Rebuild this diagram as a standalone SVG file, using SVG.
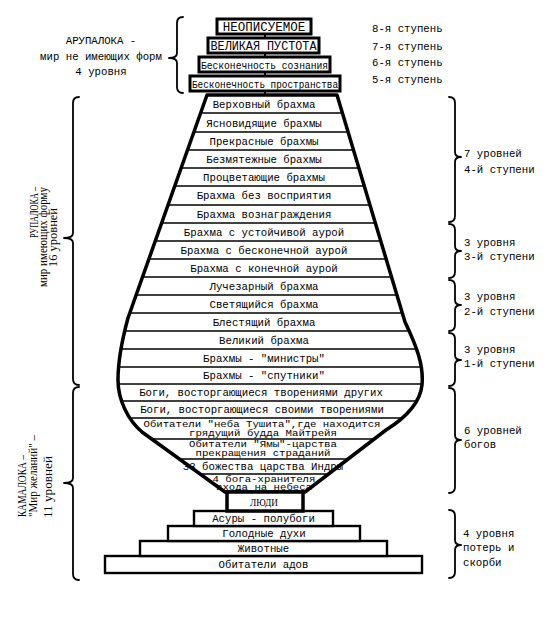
<svg xmlns="http://www.w3.org/2000/svg" width="559" height="619" viewBox="0 0 559 619">
<defs>
<style>
.m{font-family:"Liberation Mono","Courier New",monospace;font-size:10.7px;fill:#000}
.t{font-family:"Liberation Mono","Courier New",monospace;font-size:8.6px;fill:#000}
.c{text-anchor:middle}
.s{font-family:"Liberation Serif","Times New Roman",serif;font-size:11.5px;fill:#000}
.box{fill:#fff;stroke:#000;stroke-width:3}
.step{fill:#fff;stroke:#000;stroke-width:2.4}
.row{stroke:#000;stroke-width:1.3}
.br{fill:none;stroke:#000;stroke-width:1.8;stroke-linecap:round;stroke-linejoin:round}
.ln{stroke:#000;stroke-width:2}
.vase{fill:none;stroke:#000;stroke-width:3.5;stroke-linejoin:round}
</style>
<clipPath id="vc"><path d="M207,95 L337,95 L405,322 C416,345 424,365 422,385 C420,405 402,420 386,430 L305,492 L225,492 L142,432 C128,420 118,400 118,380 C118,360 122,340 128,318 Z"/></clipPath>
</defs>
<rect width="559" height="619" fill="#fff"/>

<g id="connectors">
<line class="ln" x1="265" y1="34" x2="265" y2="38"/>
<line class="ln" x1="265" y1="53" x2="265" y2="57"/>
<line class="ln" x1="265" y1="72" x2="265" y2="76"/>
<line class="ln" x1="265" y1="91" x2="265" y2="95"/>
</g>

<g id="arupaloka">
<g id="n-neopis"><rect class="box" x="217" y="19" width="94" height="15"/><text class="m c" x="264" y="31" style="font-size:12.5px">НЕОПИСУЕМОЕ</text></g>
<g id="n-pustota"><rect class="box" x="208" y="38" width="111" height="15"/><text class="m c" x="263.5" y="50" style="font-size:12px" textLength="106" lengthAdjust="spacingAndGlyphs">ВЕЛИКАЯ ПУСТОТА</text></g>
<g id="n-soznanie"><rect class="box" x="199" y="57" width="131" height="15"/><text class="m c" x="264.5" y="68.5" style="font-size:10px" textLength="127" lengthAdjust="spacingAndGlyphs">Бесконечность сознания</text></g>
<g id="n-prostranstvo"><rect class="box" x="190" y="76" width="150" height="15"/><text class="m c" x="265" y="87.5" style="font-size:10px" textLength="146" lengthAdjust="spacingAndGlyphs">Бесконечность пространства</text></g>
</g>

<g id="vase">
<path d="M207,95 L337,95 L405,322 C416,345 424,365 422,385 C420,405 402,420 386,430 L305,492 L225,492 L142,432 C128,420 118,400 118,380 C118,360 122,340 128,318 Z" fill="#fff"/>
<g clip-path="url(#vc)">
<line class="row" x1="90" y1="113" x2="440" y2="113"/>
<line class="row" x1="90" y1="132" x2="440" y2="132"/>
<line class="row" x1="90" y1="150" x2="440" y2="150"/>
<line class="row" x1="90" y1="168" x2="440" y2="168"/>
<line class="row" x1="90" y1="186" x2="440" y2="186"/>
<line class="row" x1="90" y1="205" x2="440" y2="205"/>
<line class="row" x1="90" y1="223" x2="440" y2="223"/>
<line class="row" x1="90" y1="241" x2="440" y2="241"/>
<line class="row" x1="90" y1="259" x2="440" y2="259"/>
<line class="row" x1="90" y1="277" x2="440" y2="277"/>
<line class="row" x1="90" y1="295" x2="440" y2="295"/>
<line class="row" x1="90" y1="313" x2="440" y2="313"/>
<line class="row" x1="90" y1="331" x2="440" y2="331"/>
<line class="row" x1="90" y1="349" x2="440" y2="349"/>
<line class="row" x1="90" y1="367" x2="440" y2="367"/>
<line class="row" x1="90" y1="384" x2="440" y2="384"/>
<line class="row" x1="90" y1="401" x2="440" y2="401"/>
<line class="row" x1="90" y1="418" x2="440" y2="418"/>
<line class="row" x1="90" y1="439" x2="440" y2="439"/>
<line class="row" x1="90" y1="459" x2="440" y2="459"/>
<line class="row" x1="90" y1="474" x2="440" y2="474"/>
</g>
<g id="r01"><text class="m c" x="264" y="108">Верховный брахма</text></g>
<g id="r02"><text class="m c" x="264" y="126.5">Ясновидящие брахмы</text></g>
<g id="r03"><text class="m c" x="264" y="144.5">Прекрасные брахмы</text></g>
<g id="r04"><text class="m c" x="264" y="162.5">Безмятежные брахмы</text></g>
<g id="r05"><text class="m c" x="264" y="180.5">Процветающие брахмы</text></g>
<g id="r06"><text class="m c" x="264" y="199">Брахма без восприятия</text></g>
<g id="r07"><text class="m c" x="264" y="217.5">Брахма вознаграждения</text></g>
<g id="r08"><text class="m c" x="264" y="235.5">Брахма с устойчивой аурой</text></g>
<g id="r09"><text class="m c" x="264" y="253.5">Брахма с бесконечной аурой</text></g>
<g id="r10"><text class="m c" x="264" y="271.5">Брахма с конечной аурой</text></g>
<g id="r11"><text class="m c" x="264" y="289.5">Лучезарный брахма</text></g>
<g id="r12"><text class="m c" x="264" y="307.5">Светящийся брахма</text></g>
<g id="r13"><text class="m c" x="264" y="325.5">Блестящий брахма</text></g>
<g id="r14"><text class="m c" x="264" y="343.5">Великий брахма</text></g>
<g id="r15"><text class="m c" x="264" y="361.5">Брахмы - "министры"</text></g>
<g id="r16"><text class="m c" x="264" y="379">Брахмы - "спутники"</text></g>
<g id="r17"><text class="m c" x="261" y="396">Боги, восторгающиеся творениями других</text></g>
<g id="r18"><text class="m c" x="262" y="413">Боги, восторгающиеся своими творениями</text></g>
<g id="r19"><text class="t c" x="262" y="427" textLength="237" lengthAdjust="spacingAndGlyphs">Обитатели "неба Тушита",где находится</text><text class="t c" x="263" y="436" textLength="148" lengthAdjust="spacingAndGlyphs">грядущий будда Майтрейя</text></g>
<g id="r20"><text class="t c" x="263" y="447" textLength="148" lengthAdjust="spacingAndGlyphs">Обитатели "Ямы"-царства</text><text class="t c" x="263" y="456" textLength="135" lengthAdjust="spacingAndGlyphs">прекращения страданий</text></g>
<g id="r21"><text class="m c" x="263" y="470">33 божества царства Индры</text></g>
<g id="r22"><text class="t c" x="264" y="481.5" textLength="103" lengthAdjust="spacingAndGlyphs">4 бога-хранителя</text><text class="t c" x="264" y="490" textLength="96" lengthAdjust="spacingAndGlyphs">входа на небеса</text></g>
<path class="vase" d="M207,95 L337,95 L405,322 C416,345 424,365 422,385 C420,405 402,420 386,430 L305,492 L225,492 L142,432 C128,420 118,400 118,380 C118,360 122,340 128,318 Z"/>
</g>

<g id="steps">
<g id="s-adov"><rect class="step" x="105" y="556" width="317" height="17"/><text class="m c" x="263.5" y="568">Обитатели адов</text></g>
<g id="s-zhivotnye"><rect class="step" x="140" y="541" width="247" height="15"/><text class="m c" x="263.5" y="552">Животные</text></g>
<g id="s-golodnye"><rect class="step" x="168" y="526" width="192" height="15"/><text class="m c" x="264" y="537">Голодные духи</text></g>
<g id="s-asury"><rect class="step" x="194" y="511" width="139" height="15"/><text class="m c" x="263.5" y="522">Асуры - полубоги</text></g>
<g id="s-lyudi"><rect x="227" y="492" width="76" height="19" fill="#fff" stroke="#000" stroke-width="3.5"/><text class="s c" x="264" y="505.5" style="font-size:10px" textLength="28" lengthAdjust="spacingAndGlyphs">ЛЮДИ</text></g>
</g>

<g id="braces">
<path class="br" d="M183,17 Q177,17 177,23 L177,53 Q177,58 169,58 Q177,58 177,63 L177,87 Q177,93 183,93"/>
<path class="br" d="M79,97 Q73,97 73,103 L73,233 Q73,238 64,238 Q73,238 73,243 L73,379 Q73,385 79,385"/>
<path class="br" d="M79,387 Q73,387 73,393 L73,478 Q73,483 64,483 Q73,483 73,488 L73,574 Q73,580 79,580"/>
<path class="br" d="M449,97 Q455,97 455,103 L455,152 Q455,157 461,157 Q455,157 455,162 L455,216 Q455,222 449,222"/>
<path class="br" d="M449,224 Q455,224 455,230 L455,246 Q455,251 461,251 Q455,251 455,256 L455,272 Q455,278 449,278"/>
<path class="br" d="M449,280 Q455,280 455,286 L455,300 Q455,305 461,305 Q455,305 455,310 L455,325 Q455,331 449,331"/>
<path class="br" d="M449,333 Q455,333 455,339 L455,355 Q455,360 461,360 Q455,360 455,365 L455,380 Q455,386 449,386"/>
<path class="br" d="M449,388 Q455,388 455,394 L455,435 Q455,440 461,440 Q455,440 455,445 L455,487 Q455,493 449,493"/>
<path class="br" d="M449,510 Q455,510 455,516 L455,540 Q455,545 461,545 Q455,545 455,550 L455,572 Q455,578 449,578"/>
</g>

<g id="labels-left">
<g id="l-arupa">
<text class="m c" x="101" y="44">АРУПАЛОКА -</text>
<text class="m c" x="101" y="60">мир не имеющих форм</text>
<text class="m c" x="101" y="75">4 уровня</text>
</g>
<g id="l-rupa">
<text class="s" transform="translate(38,238) rotate(-90)" textLength="51" lengthAdjust="spacingAndGlyphs">РУПАЛОКА –</text>
<text class="s" transform="translate(47,287) rotate(-90)" textLength="100" lengthAdjust="spacingAndGlyphs">мир имеющих форму</text>
<text class="s" transform="translate(57,267) rotate(-90)" textLength="59" lengthAdjust="spacingAndGlyphs">16 уровней</text>
</g>
<g id="l-kama">
<text class="s" transform="translate(26,517) rotate(-90)" textLength="62" lengthAdjust="spacingAndGlyphs">КАМАЛОКА –</text>
<text class="s" transform="translate(37,517) rotate(-90)" textLength="82" lengthAdjust="spacingAndGlyphs">"Мир желаний" –</text>
<text class="s" transform="translate(52,518) rotate(-90)" textLength="62" lengthAdjust="spacingAndGlyphs">11 уровней</text>
</g>
</g>

<g id="labels-right">
<text class="m" x="372" y="32">8-я ступень</text>
<text class="m" x="372" y="50">7-я ступень</text>
<text class="m" x="372" y="66">6-я ступень</text>
<text class="m" x="372" y="83">5-я ступень</text>
<text class="m" x="464" y="157">7 уровней</text>
<text class="m" x="464" y="173">4-й ступени</text>
<text class="m" x="464" y="246">3 уровня</text>
<text class="m" x="464" y="260">3-й ступени</text>
<text class="m" x="464" y="300">3 уровня</text>
<text class="m" x="464" y="315">2-й ступени</text>
<text class="m" x="464" y="353">3 уровня</text>
<text class="m" x="464" y="367">1-й ступени</text>
<text class="m" x="464" y="434">6 уровней</text>
<text class="m" x="464" y="448">богов</text>
<text class="m" x="463" y="537">4 уровня</text>
<text class="m" x="463" y="551">потерь и</text>
<text class="m" x="463" y="566">скорби</text>
</g>
</svg>
